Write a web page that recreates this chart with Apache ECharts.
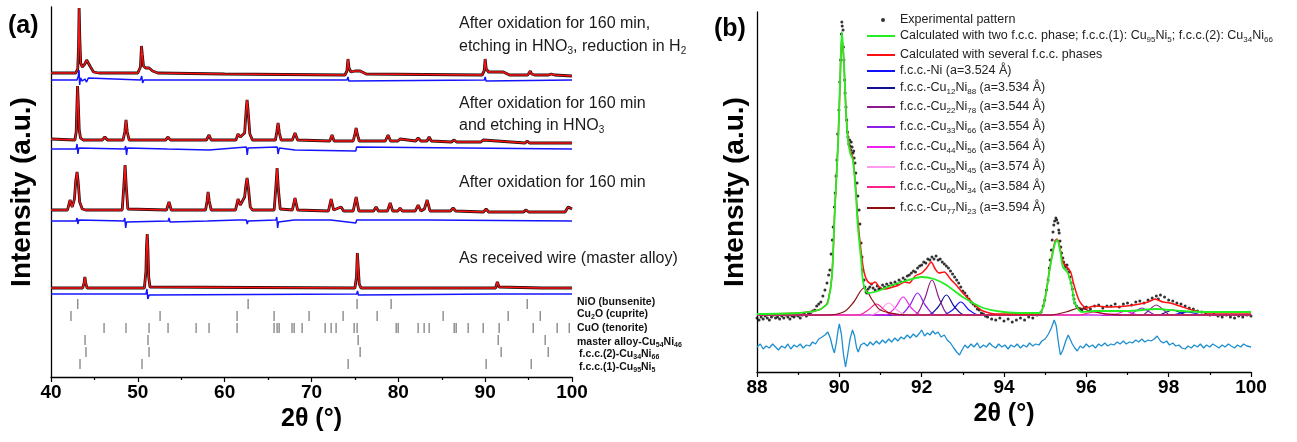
<!DOCTYPE html>
<html><head><meta charset="utf-8">
<script src="https://cdn.jsdelivr.net/npm/echarts@6/dist/echarts.min.js"></script>
<style>html,body{margin:0;padding:0;background:#fff}#c{width:1297px;height:442px}</style>
</head><body><div id="c"></div><script>
// ---------- Panel (a): XRD patterns (2theta, intensity a.u. incl. vertical offset) ----------
const obsA1 = [[40,304],[42.85,304],[43.08,308],[43.17,330],[43.24,369],[43.32,338],[43.42,314],[43.6,310],[43.9,313],[44.1,317],[44.3,316],[44.55,310],[44.9,305],[45.5,304],
[50.0,304],[50.3,310],[50.42,331],[50.52,322],[50.65,311],[50.9,309],[51.3,309],[51.7,306],[52.3,304],
[60,303],[73.85,302],[74.08,306],[74.2,318],[74.32,309],[74.55,305],[75.0,306],[75.6,306],[76.3,303],
[89.65,302],[89.88,306],[90.0,318],[90.12,308],[90.4,305],[91.3,305],[92.1,305],[92.8,302],
[94.9,302],[95.1,304],[95.2,306],[95.35,303],[95.7,302],[97.3,302],[97.6,303],[98,302],[100,301]];
const diffA1 = [[40,297],[43.0,297],[43.15,301],[43.23,307],[43.3,292],[43.4,299],[43.6,296],[43.9,298],[44.1,295],[44.3,299],[44.5,297],[50.3,297],[50.45,301],[50.55,294],[50.7,297],[74.1,297],[74.2,300],[74.3,296],[74.45,297],[89.9,297],[90.0,300],[90.1,296],[90.25,297],[100,297]];

const obsA2 = [[40,238],[42.75,237],[42.9,245],[43.0,275],[43.06,291],[43.14,274],[43.25,247],[43.4,239],[43.7,237],
[45.9,237],[46.2,240],[46.5,237],[48.3,237],[48.5,245],[48.64,257],[48.78,245],[49.0,237],
[53.2,237],[53.48,240],[53.75,237],[57.9,237],[58.2,242],[58.45,237],
[61.3,237],[61.54,243],[61.8,240],[62.3,244],[62.5,270],[62.58,277],[62.68,268],[62.9,243],[63.2,237],
[65.85,237],[66.0,245],[66.15,254],[66.3,244],[66.5,237],[67.8,237],[68.1,244],[68.4,237],
[72.1,236],[72.37,242],[72.6,236],[74.8,236],[75.0,243],[75.14,249],[75.3,242],[75.5,236],
[78.5,236],[78.82,242],[79.1,236],[79.95,236],[80.2,238],[80.4,236],
[82.0,236],[82.28,239],[82.6,236],[83.3,236],[83.55,240],[83.8,236],
[86.1,235],[86.43,237],[86.7,235],[89.5,235],[89.77,237],[90.0,235],[94.6,234],[94.84,236],[95.1,234],[100,234]];
const diffA2 = [[40,228],[42.9,228],[43.0,233],[43.1,223],[43.2,229],[43.4,228],[48.5,228],[48.6,231],[48.7,222],[48.8,229],[53.4,228],[53.5,226],[53.6,229],[58.2,227],[58.3,228],[62.5,230],[62.6,222],[62.7,229],[66.05,230],[66.15,223],[66.3,229],[68.1,227],[68.2,228],[75.1,226],[75.2,230],[75.3,228],[100,228]];

const obsA3 = [[40,167],[41.9,167],[42.19,177],[42.45,170],[42.7,178],[42.85,196],[43.0,205],[43.12,196],[43.3,175],[43.6,168],[44.0,167],
[48.2,167],[48.38,190],[48.53,212],[48.67,190],[48.85,168],[53.3,167],[53.59,175],[53.85,167],
[57.8,167],[57.98,176],[58.09,185],[58.22,176],[58.45,167],
[61.25,167],[61.54,178],[61.8,172],[62.3,180],[62.45,192],[62.58,199],[62.72,190],[62.95,170],[63.2,167],
[65.7,167],[65.88,188],[66.04,209],[66.18,188],[66.4,168],[67.8,167],[68.1,179],[68.4,167],
[71.95,166],[72.26,178],[72.55,167],[73.41,170],[73.7,166],[74.8,166],[75.14,180],[75.45,166],
[77.15,166],[77.44,170],[77.7,166],[78.75,166],[79.06,174],[79.35,166],[79.95,166],[80.2,169],[80.45,166],
[81.95,166],[82.28,172],[82.6,166],[83.0,168],[83.32,177],[83.65,166],[86.0,166],[86.31,169],[86.6,166],
[89.8,165],[90.11,168],[90.4,165],[94.4,165],[94.72,167],[95.0,165],[99.2,165],[99.56,170],[100,168]];
const diffA3 = [[40,156],[42.1,156],[42.2,158],[42.3,155],[42.9,156],[43.0,159],[43.1,153],[43.2,157],[48.4,156],[48.5,159],[48.6,149],[48.7,155],[48.8,156],[53.5,156],[53.6,159],[53.7,155],[58.0,156],[58.1,154],[58.2,156],[61.5,157],[61.6,155],[62.5,157],[62.6,153],[62.7,156],[65.9,157],[66.0,160],[66.1,149],[66.2,155],[66.3,156],[68.0,157],[68.1,159],[68.2,156],[72.2,157],[72.3,155],[75.1,154],[75.2,157],[79.0,157],[79.1,159],[79.2,156],[83.3,157],[83.4,158],[83.5,156],[100,156]];

const obsA4 = [[40,89],[43.65,89],[43.8,94],[43.9,100],[44.0,94],[44.15,89],
[50.75,89],[50.93,105],[51.0,130],[51.08,143],[51.16,128],[51.25,100],[51.4,90],[51.6,89],
[75.0,89],[75.18,100],[75.28,124],[75.38,110],[75.5,93],[75.7,89],
[91.2,89],[91.4,95],[91.6,90],[91.8,89],[96.6,89],[96.8,91],[97.0,89],[100,89]];
const diffA4 = [[40,83],[43.8,83],[43.9,85],[44.0,82],[44.1,83],[50.95,83],[51.05,88],[51.15,78],[51.3,82],[51.5,83],[75.2,83],[75.3,86],[75.4,82],[75.5,83],[91.35,83],[91.45,85],[91.55,83],[100,83]];

// reference reflection positions (2theta)
const tickNiO = [43.08, 62.70, 75.25, 79.17, 94.84];
const tickCu2O = [42.3, 52.56, 61.43, 65.69, 69.72, 73.64, 77.56, 85.16, 92.65, 96.34];
const tickCuO = [46.11, 48.64, 51.29, 53.48, 56.71, 58.2, 61.43, 65.69, 66.04, 66.27, 67.76, 68.0, 68.92, 71.57, 72.26, 72.83, 74.91, 75.25, 79.75, 79.98, 82.28, 82.97, 83.55, 86.43, 86.66, 88.04, 89.77, 91.61, 95.53, 98.29, 99.68];
const tickMaster = [43.92, 51.17, 75.37, 91.5, 96.91];
const tickFcc2 = [44.03, 51.29, 75.6, 91.84, 97.26];
const tickFcc1 = [43.34, 50.48, 74.22, 90.11, 95.3];
const tickRowNames = ['NiO (bunsenite)', 'Cu{s|2}O (cuprite)', 'CuO (tenorite)', 'master alloy-Cu{s|54}Ni{s|46}', 'f.c.c.(2)-Cu{s|34}Ni{s|66}', 'f.c.c.(1)-Cu{s|95}Ni{s|5}'];
const sampleLabels = [
  ['After oxidation for 160 min,', 'etching in HNO{s|3}, reduction in H{s|2}'],
  ['After oxidation for 160 min', 'and etching in HNO{s|3}'],
  ['After oxidation for 160 min'],
  ['As received wire (master alloy)']
];

// ---------- Panel (b): 2theta 88-100 detail ----------
const expB = [[88.00,54],[88.05,52],[88.10,55],[88.15,53],[88.20,56],[88.25,54],[88.30,52],[88.35,55],[88.40,57],[88.45,54],[88.50,55],[88.55,53],[88.60,56],[88.65,54],[88.70,57],[88.75,55],[88.80,53],[88.85,56],[88.90,55],[88.95,57],[89.00,56],[89.05,54],[89.10,57],[89.15,58],[89.20,56],[89.25,59],[89.30,58],[89.35,61],[89.40,62],[89.45,66],[89.50,68],[89.55,70],[89.60,76],[89.65,82],[89.70,89],[89.74,97],[89.77,102],[89.80,118],[89.83,132],[89.85,145],[89.88,165],[89.90,179],[89.92,196],[89.94,212],[89.96,238],[89.99,262],[90.01,290],[90.03,312],[90.05,338],[90.06,350],[90.07,346],[90.09,342],[90.10,325],[90.11,312],[90.13,292],[90.14,279],[90.16,265],[90.18,252],[90.20,240],[90.21,235],[90.23,228],[90.25,232],[90.26,226],[90.28,222],[90.29,230],[90.31,225],[90.33,219],[90.35,221],[90.36,214],[90.38,209],[90.40,199],[90.43,189],[90.45,176],[90.48,162],[90.50,148],[90.53,129],[90.55,115],[90.57,102],[90.60,92],[90.62,85],[90.65,80],[90.67,79],[90.70,83],[90.74,85],[90.78,88],[90.82,84],[90.87,82],[90.92,86],[90.96,83],[90.99,84],[91.05,87],[91.10,85],[91.15,88],[91.20,86],[91.25,89],[91.30,87],[91.35,90],[91.40,88],[91.45,92],[91.50,90],[91.55,94],[91.60,92],[91.65,96],[91.70,97],[91.75,99],[91.80,101],[91.85,100],[91.90,104],[91.95,106],[92.00,107],[92.05,110],[92.10,109],[92.15,113],[92.20,112],[92.25,115],[92.30,113],[92.35,116],[92.40,112],[92.45,113],[92.50,110],[92.55,108],[92.60,106],[92.65,104],[92.70,101],[92.75,98],[92.80,95],[92.85,92],[92.90,89],[92.95,85],[93.00,81],[93.05,79],[93.10,76],[93.15,73],[93.20,70],[93.25,68],[93.30,66],[93.35,63],[93.40,62],[93.45,59],[93.50,58],[93.55,56],[93.60,55],[93.70,53],[93.80,52],[93.90,54],[94.00,51],[94.10,53],[94.20,50],[94.30,52],[94.40,54],[94.50,52],[94.60,55],[94.70,54],[94.80,57],[94.90,60],[94.95,66],[94.99,72],[95.03,82],[95.07,92],[95.10,104],[95.12,112],[95.15,122],[95.17,132],[95.19,140],[95.21,147],[95.23,151],[95.26,154],[95.28,152],[95.31,149],[95.33,142],[95.34,139],[95.36,131],[95.38,125],[95.40,119],[95.43,114],[95.45,110],[95.48,107],[95.50,105],[95.53,107],[95.55,103],[95.58,100],[95.60,95],[95.63,89],[95.66,83],[95.68,77],[95.70,73],[95.72,69],[95.76,66],[95.80,64],[95.85,63],[95.89,62],[95.95,64],[96.00,65],[96.10,63],[96.20,66],[96.30,67],[96.40,64],[96.50,66],[96.60,66],[96.70,68],[96.80,65],[96.90,68],[97.00,69],[97.10,67],[97.20,70],[97.30,71],[97.40,69],[97.50,72],[97.60,74],[97.70,76],[97.75,73],[97.80,77],[97.90,75],[98.00,72],[98.10,71],[98.20,69],[98.30,68],[98.40,66],[98.50,64],[98.60,63],[98.70,61],[98.80,60],[98.90,59],[99.00,57],[99.10,58],[99.20,56],[99.30,55],[99.40,57],[99.50,55],[99.60,54],[99.70,56],[99.80,55],[99.90,57],[100.00,56]];
const calcTwo = [[88,58],[89.0,59],[89.5,62],[89.65,66],[89.72,69],[89.82,95],[89.89,162],[89.97,229],[90.02,295],[90.06,340],[90.11,312],[90.16,262],[90.21,232],[90.27,218],[90.33,212],[90.40,179],[90.45,145],[90.53,112],[90.57,92],[90.63,82],[90.70,79],[90.85,80],[91.0,82],[91.23,86],[91.6,91],[92.0,95],[92.3,93],[92.6,87],[93.0,75],[93.5,64],[94.0,60],[94.5,59],[94.87,59],[94.99,72],[95.12,105],[95.24,129],[95.29,132],[95.36,122],[95.43,105],[95.55,99],[95.65,85],[95.72,69],[95.89,60],[96.2,61],[97.0,61],[97.7,63],[98.3,61],[99,60],[100,60]];
const calcSeveral = [[88,58],[89.0,59],[89.5,62],[89.65,66],[89.72,70],[89.82,96],[89.89,163],[89.97,230],[90.02,292],[90.06,335],[90.11,310],[90.16,262],[90.21,234],[90.27,221],[90.33,214],[90.40,183],[90.45,152],[90.53,120],[90.6,100],[90.68,91],[90.78,88],[90.87,90],[90.97,85],[91.1,83],[91.3,85],[91.45,87],[91.58,90],[91.7,89],[91.84,96],[92.0,99],[92.12,104],[92.23,110],[92.33,103],[92.42,99],[92.55,100],[92.7,93],[92.86,86],[93.0,79],[93.17,72],[93.35,65],[93.49,61],[93.8,58],[94.5,58],[94.87,59],[94.99,72],[95.12,106],[95.24,131],[95.29,133],[95.36,124],[95.43,110],[95.55,104],[95.62,100],[95.68,90],[95.75,80],[95.82,72],[95.9,67],[96.0,64],[96.2,66],[96.57,65],[96.98,66],[97.3,68],[97.5,70],[97.67,73],[97.86,70],[98.03,69],[98.27,66],[98.57,62],[98.93,59],[100,59]];
const compNi   = [[88,57],[92.5,57],[92.75,62],[92.95,70],[93.15,62],[93.4,57],[98.1,57],[98.3,59],[98.45,60],[98.6,59],[98.8,57],[100,57]];
const compCu12 = [[88,57],[92.15,57],[92.4,65],[92.6,77],[92.8,65],[93.05,57],[97.75,57],[97.95,60],[98.1,62],[98.25,60],[98.45,57],[100,57]];
const compCu22 = [[88,57],[91.8,57],[92.05,71],[92.25,92],[92.45,71],[92.7,57],[97.35,57],[97.55,63],[97.7,67],[97.85,63],[98.05,57],[100,57]];
const compCu33 = [[88,57],[91.45,57],[91.7,66],[91.9,79],[92.1,66],[92.35,57],[97.0,57],[97.2,61],[97.35,64],[97.5,61],[97.7,57],[100,57]];
const compCu44 = [[88,57],[91.1,57],[91.35,64],[91.55,75],[91.75,64],[92.0,57],[96.6,57],[96.8,59],[96.95,61],[97.1,59],[97.3,57],[100,57]];
const compCu55 = [[88,57],[90.75,57],[91.0,62],[91.2,69],[91.4,62],[91.65,57],[96.25,57],[96.45,58],[96.6,59],[96.75,58],[96.95,57],[100,57]];
const compCu66 = [[88,57],[90.45,57],[90.7,62],[90.9,68],[91.1,62],[91.35,57],[95.85,57],[96.05,59],[96.2,60],[96.35,59],[96.55,57],[100,57]];
const compCu77 = [[88,57],[89.7,57],[90.1,60],[90.35,70],[90.6,84],[90.8,72],[91.0,62],[91.4,58],[91.8,57],[95.1,57],[95.5,60],[95.85,64],[96.1,61],[96.5,58],[97,57],[100,57]];
const diffB = [[88.0,25],[88.08,28],[88.15,23],[88.22,26],[88.3,24],[88.38,28],[88.45,25],[88.52,22],[88.6,26],[88.68,24],[88.75,28],[88.82,23],[88.9,27],[88.97,25],[89.05,28],[89.12,24],[89.2,27],[89.28,26],[89.35,30],[89.42,28],[89.5,33],[89.58,35],[89.65,37],[89.72,40],[89.78,34],[89.84,24],[89.88,19],[89.93,30],[89.97,42],[90.0,48],[90.05,38],[90.1,18],[90.15,5],[90.2,17],[90.26,33],[90.32,42],[90.37,36],[90.42,24],[90.46,20],[90.52,27],[90.6,29],[90.68,26],[90.75,30],[90.82,27],[90.9,31],[90.97,28],[91.05,32],[91.12,29],[91.2,33],[91.27,30],[91.35,34],[91.42,31],[91.5,35],[91.57,33],[91.65,37],[91.72,34],[91.8,38],[91.87,35],[91.95,39],[92.0,42],[92.07,36],[92.14,39],[92.2,37],[92.27,41],[92.33,38],[92.4,40],[92.47,35],[92.55,37],[92.62,32],[92.7,29],[92.78,24],[92.85,20],[92.92,17],[92.98,22],[93.05,27],[93.12,24],[93.2,28],[93.27,25],[93.35,29],[93.42,24],[93.5,27],[93.57,25],[93.65,29],[93.72,26],[93.8,24],[93.87,28],[93.95,25],[94.02,27],[94.1,23],[94.17,27],[94.25,25],[94.32,28],[94.4,24],[94.47,27],[94.55,25],[94.62,29],[94.7,26],[94.77,28],[94.85,27],[94.92,31],[95.0,33],[95.08,38],[95.15,44],[95.22,52],[95.27,46],[95.32,30],[95.37,17],[95.43,22],[95.5,31],[95.56,37],[95.6,35],[95.66,28],[95.72,24],[95.78,21],[95.85,26],[95.92,24],[96.0,28],[96.07,25],[96.15,27],[96.22,24],[96.3,28],[96.37,26],[96.45,29],[96.52,26],[96.6,28],[96.67,27],[96.75,30],[96.82,28],[96.9,31],[96.97,28],[97.05,30],[97.12,29],[97.2,32],[97.27,30],[97.35,33],[97.42,30],[97.5,32],[97.57,31],[97.65,33],[97.72,36],[97.8,31],[97.87,29],[97.95,31],[98.02,27],[98.1,29],[98.17,26],[98.25,27],[98.32,24],[98.4,23],[98.47,26],[98.55,24],[98.62,27],[98.7,25],[98.77,28],[98.85,24],[98.92,27],[99.0,25],[99.07,28],[99.15,26],[99.22,24],[99.3,27],[99.37,25],[99.45,28],[99.52,26],[99.6,24],[99.67,27],[99.75,25],[99.82,28],[99.9,26],[100.0,25]];

const bNames = [
  'Experimental pattern',
  'Calculated with two f.c.c. phase; f.c.c.(1): Cu95Ni5; f.c.c.(2): Cu34Ni66',
  'Calculated with several f.c.c. phases',
  'f.c.c.-Ni (a=3.524 Å)',
  'f.c.c.-Cu12Ni88 (a=3.534 Å)',
  'f.c.c.-Cu22Ni78 (a=3.544 Å)',
  'f.c.c.-Cu33Ni66 (a=3.554 Å)',
  'f.c.c.-Cu44Ni56 (a=3.564 Å)',
  'f.c.c.-Cu55Ni45 (a=3.574 Å)',
  'f.c.c.-Cu66Ni34 (a=3.584 Å)',
  'f.c.c.-Cu77Ni23 (a=3.594 Å)'
];
const compData = [compNi, compCu12, compCu22, compCu33, compCu44, compCu55, compCu66, compCu77];
const compColors = ['#1010ff', '#101090', '#8a1a8a', '#8a1ee6', '#f020f0', '#ff9cf0', '#ff2090', '#8b1010'];

// ---------- build ----------
const FONT = "'Liberation Sans', Arial, sans-serif";
const subRich = { s: { fontSize: 8, fontFamily: FONT, verticalAlign: 'bottom', fill: '#222', color: '#222' } };
const subRichBold = { s: { fontSize: 7, fontWeight: 'bold', fontFamily: FONT, verticalAlign: 'bottom', color: '#111', fill: '#111' } };

const chart = echarts.init(document.getElementById('c'));
const series = [];
const patternsA = [[obsA1, diffA1], [obsA2, diffA2], [obsA3, diffA3], [obsA4, diffA4]];
patternsA.forEach(([obs, diff], i) => {
  series.push({ type: 'line', xAxisIndex: 0, yAxisIndex: 0, data: obs, symbol: 'none', lineStyle: { color: '#111', width: 2.8 }, z: 2, silent: true });
  series.push({ type: 'line', xAxisIndex: 0, yAxisIndex: 0, data: obs, symbol: 'none', lineStyle: { color: '#ff1010', width: 1.4 }, z: 3, silent: true });
  series.push({ type: 'line', xAxisIndex: 0, yAxisIndex: 0, data: diff, symbol: 'none', lineStyle: { color: '#1414ff', width: 1.5 }, z: 3, silent: true });
});
const tickRows = [tickNiO, tickCu2O, tickCuO, tickMaster, tickFcc2, tickFcc1];
const tickRowY = [73, 61, 49, 37, 25, 13];
tickRows.forEach((row, i) => {
  series.push({ type: 'scatter', xAxisIndex: 0, yAxisIndex: 0, data: row.map(x => [x, tickRowY[i]]), symbol: 'rect', symbolSize: [1.2, 10], itemStyle: { color: '#555' }, silent: true });
});

// panel b
series.push({ name: bNames[0], type: 'scatter', xAxisIndex: 1, yAxisIndex: 1, data: expB, symbol: 'circle', symbolSize: 3, itemStyle: { color: '#000' }, z: 2 });
compData.forEach((d, i) => {
  series.push({ name: bNames[3 + i], type: 'line', xAxisIndex: 1, yAxisIndex: 1, data: d, symbol: 'none', smooth: 0.35, lineStyle: { color: compColors[i], width: 1.2 }, itemStyle: { color: compColors[i] }, z: 3 });
});
series.push({ name: bNames[2], type: 'line', xAxisIndex: 1, yAxisIndex: 1, data: calcSeveral, symbol: 'none', smooth: 0.25, lineStyle: { color: '#ff1010', width: 1.5 }, itemStyle: { color: '#ff1010' }, z: 4 });
series.push({ name: bNames[1], type: 'line', xAxisIndex: 1, yAxisIndex: 1, data: calcTwo, symbol: 'none', smooth: 0.25, lineStyle: { color: '#22ee22', width: 1.8 }, itemStyle: { color: '#22ee22' }, z: 5 });
series.push({ name: 'difference', type: 'line', xAxisIndex: 1, yAxisIndex: 1, data: diffB, symbol: 'none', lineStyle: { color: '#1e8fd0', width: 1.3 }, z: 3 });

const legendY = [20, 36, 55, 71, 88, 107, 127, 147, 167, 187, 208];
const fmt = n => n.replace(/(Cu|Ni)(\d+)/g, '$1{s|$2}');
const legends = bNames.map((n, i) => {
  const isDot = i === 0;
  return {
    data: [n], orient: 'vertical', selectedMode: false, padding: 0,
    left: isDot ? 881 : 867, top: legendY[i] - 8,
    icon: isDot ? 'circle' : 'rect',
    itemWidth: isDot ? 4 : 28, itemHeight: isDot ? 4 : 2,
    formatter: fmt,
    textStyle: { fontFamily: FONT, fontSize: 12.5, color: '#222', lineHeight: 16, padding: isDot ? [0, 0, 0, 10] : 0, rich: subRich }
  };
});

const axisLabelStyle = { fontFamily: FONT, fontSize: 19, fontWeight: 'bold', color: '#000', margin: 6 };
const nameStyleX = { fontFamily: FONT, fontSize: 25, fontWeight: 'bold', color: '#000' };
const nameStyleY = { fontFamily: FONT, fontSize: 28, fontWeight: 'bold', color: '#000' };
const graphics = [];
const sampleY = [[24, 47], [104, 126], [183], [259]];
sampleLabels.forEach((lines, i) => lines.forEach((t, j) => {
  graphics.push({ type: 'text', left: 459, top: sampleY[i][j] - 9, style: { text: t, fontFamily: FONT, fontSize: 16, fill: '#1a1a1a', lineHeight: 18, rich: { s: { fontSize: 10, fontFamily: FONT, verticalAlign: 'bottom', fill: '#1a1a1a' } } } });
}));
const rowLabelY = [302, 314, 328, 342, 354, 367];
tickRowNames.forEach((t, i) => {
  graphics.push({ type: 'text', left: i >= 4 ? 579 : 577, top: rowLabelY[i] - 7, style: { text: t, fontFamily: FONT, fontSize: 10.5, fontWeight: 'bold', fill: '#111', lineHeight: 14, rich: subRichBold } });
});

chart.setOption({
  animation: false,
  backgroundColor: '#fff',
  title: [
    { text: '(a)', left: 8, top: 14, padding: 0, textStyle: { fontFamily: FONT, fontSize: 25, fontWeight: 'bold', color: '#000' } },
    { text: '(b)', left: 714, top: 17, padding: 0, textStyle: { fontFamily: FONT, fontSize: 25, fontWeight: 'bold', color: '#000' } }
  ],
  legend: legends,
  grid: [
    { left: 51, right: 725, top: 7, bottom: 65 },
    { left: 757, right: 46, top: 12, bottom: 70 }
  ],
  xAxis: [
    { gridIndex: 0, type: 'value', min: 40, max: 100, interval: 10, name: '2θ (°)', nameLocation: 'middle', nameGap: 28, nameTextStyle: nameStyleX,
      axisLine: { lineStyle: { color: '#000', width: 1.3 } }, axisTick: { length: 5, lineStyle: { color: '#000', width: 1.2 } },
      minorTick: { show: true, splitNumber: 2, length: 3, lineStyle: { color: '#000', width: 1.2 } }, splitLine: { show: false }, axisLabel: axisLabelStyle },
    { gridIndex: 1, type: 'value', min: 88, max: 100, interval: 2, name: '2θ (°)', nameLocation: 'middle', nameGap: 28, nameTextStyle: nameStyleX,
      axisLine: { lineStyle: { color: '#000', width: 1.3 } }, axisTick: { length: 5, lineStyle: { color: '#000', width: 1.2 } },
      minorTick: { show: true, splitNumber: 2, length: 3, lineStyle: { color: '#000', width: 1.2 } }, splitLine: { show: false }, axisLabel: axisLabelStyle }
  ],
  yAxis: [
    { gridIndex: 0, type: 'value', min: 0, max: 370, name: 'Intensity (a.u.)', nameLocation: 'middle', nameGap: 15, nameTextStyle: nameStyleY,
      axisLine: { show: true, lineStyle: { color: '#000', width: 1.3 } }, axisTick: { show: false }, axisLabel: { show: false }, splitLine: { show: false } },
    { gridIndex: 1, type: 'value', min: 0, max: 360, name: 'Intensity (a.u.)', nameLocation: 'middle', nameGap: 8, nameTextStyle: nameStyleY,
      axisLine: { show: true, lineStyle: { color: '#000', width: 1.3 } }, axisTick: { show: false }, axisLabel: { show: false }, splitLine: { show: false } }
  ],
  graphic: graphics,
  series: series
});
</script></body></html>
